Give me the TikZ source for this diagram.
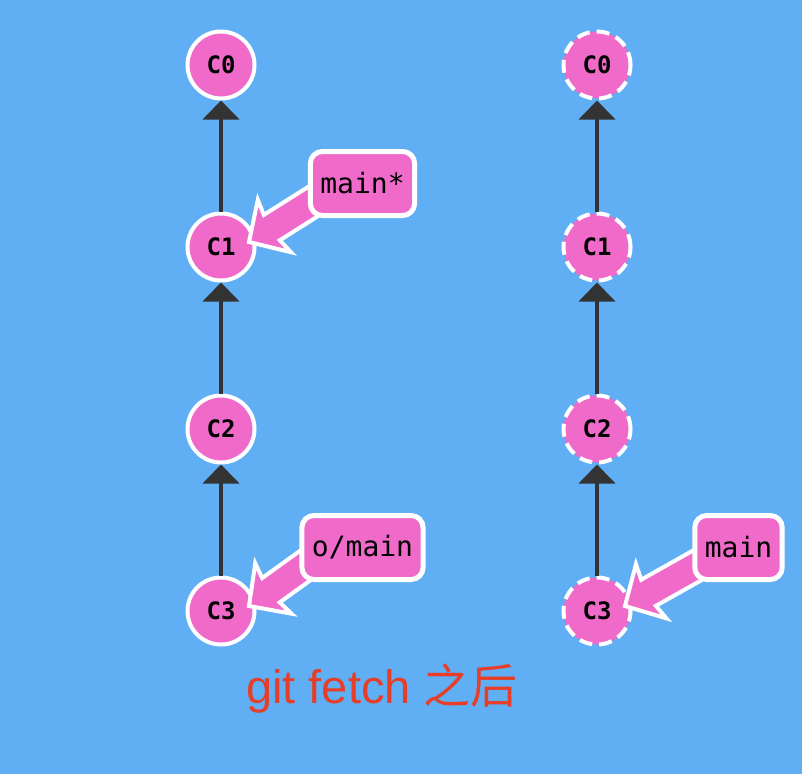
\documentclass[tikz,border=0pt]{standalone}
\usepackage{fontspec}
\usetikzlibrary{arrows.meta,calc}
\newfontfamily\monofont{DejaVu Sans Mono}
\newfontfamily\capfont{Liberation Sans}
\newfontfamily\cjkfont{Noto Sans CJK SC}
\definecolor{bg}{RGB}{96,175,244}
\definecolor{pinkc}{RGB}{239,106,201}
\definecolor{darkc}{RGB}{51,51,51}
\definecolor{redc}{RGB}{230,62,40}
\pgfdeclarelayer{front}
\pgfsetlayers{main,front}
\tikzset{
  commit/.style={circle, minimum size=67pt, inner sep=0pt, fill=pinkc, draw=white, line width=4pt,
    font=\fontsize{24}{24}\selectfont\monofont\bfseries},
  remote/.style={commit, dash pattern=on 13pt off 7pt},
  edge/.style={draw=darkc, line width=4pt, -{Triangle[length=19pt,width=36pt]}},
  branch/.style={rounded corners=12pt, fill=pinkc, draw=white, line width=5pt, minimum height=64pt,
    inner xsep=10pt, font=\fontsize{28}{28}\selectfont\monofont},
  fatarrow/.style={fill=pinkc, draw=white, line width=4pt, line join=miter},
}
\newcommand\branchptr[2]{%
  \path[fatarrow] let \p1=($(#1)+(28,5)$), \p2=($(#2.west)+(10,-15)$),
    \n1={atan2(\y2-\y1,\x2-\x1)}, \n2={veclen(\x2-\x1,\y2-\y1)} in
    ([shift={(\p1)},rotate=\n1]0,0) -- ([shift={(\p1)},rotate=\n1]30,31)
    -- ([shift={(\p1)},rotate=\n1]27,15) -- ([shift={(\p1)},rotate=\n1]\n2+20,15)
    -- ([shift={(\p1)},rotate=\n1]\n2+20,-15) -- ([shift={(\p1)},rotate=\n1]27,-15)
    -- ([shift={(\p1)},rotate=\n1]30,-31) -- cycle;}
\begin{document}
\begin{tikzpicture}[x=1pt,y=1pt]
\useasboundingbox (0,0) rectangle (802,-774);
\fill[bg] (0,0) rectangle (802,-774);
% left repository
\node[commit] (a0) at (221,-65) {C0};
\node[commit] (a1) at (221,-247) {C1};
\node[commit] (a2) at (221,-429) {C2};
\node[commit] (a3) at (221,-611) {C3};
\draw[edge] (a1) -- (a0);
\draw[edge] (a2) -- (a1);
\draw[edge] (a3) -- (a2);
% right repository
\node[remote] (b0) at (597,-65) {C0};
\node[remote] (b1) at (597,-247) {C1};
\node[remote] (b2) at (597,-429) {C2};
\node[remote] (b3) at (597,-611) {C3};
\draw[edge] (b1) -- (b0);
\draw[edge] (b2) -- (b1);
\draw[edge] (b3) -- (b2);
% branch labels
\begin{pgfonlayer}{front}
\node[branch] (m1) at (362.5,-183.5) {main*};
\node[branch] (om) at (362.5,-547.5) {o/main};
\node[branch] (rm) at (738.5,-547.5) {main};
\end{pgfonlayer}
\branchptr{a1}{m1}
\branchptr{a3}{om}
\branchptr{b3}{rm}
% caption
\node[text=redc, anchor=base, inner sep=0pt] (cap) at (382,-703)
  {\fontsize{47}{47}\selectfont\capfont git fetch \cjkfont 之后};
\end{tikzpicture}
\end{document}
